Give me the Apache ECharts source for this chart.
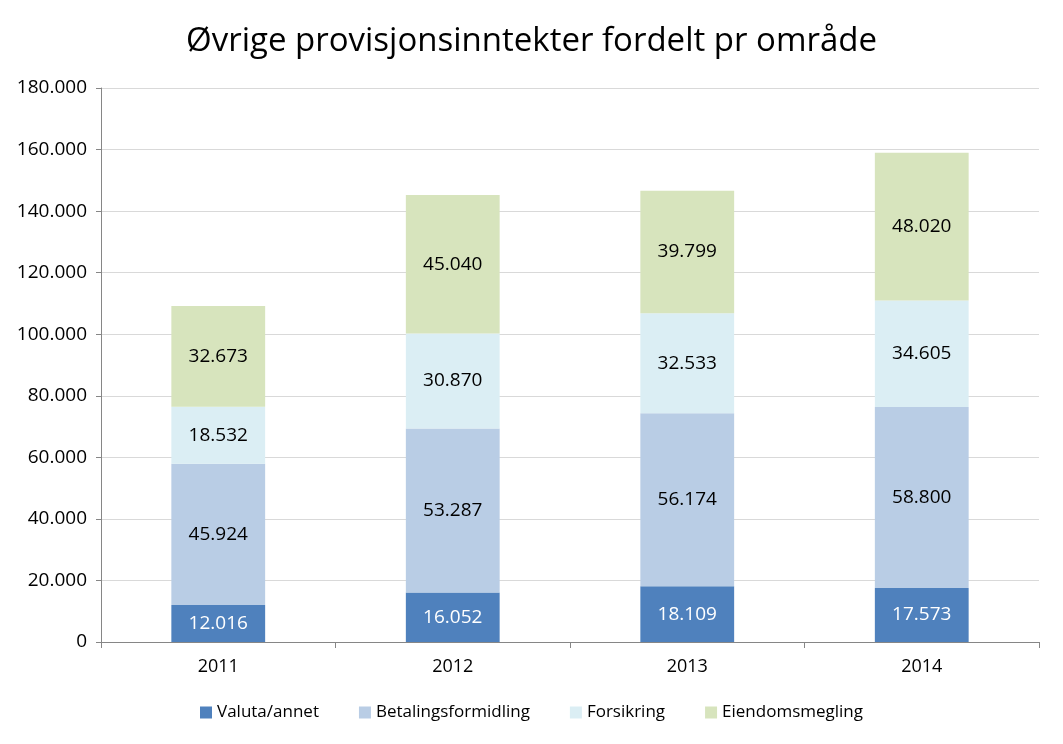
<!DOCTYPE html>
<html>
<head>
<meta charset="utf-8">
<script src="https://cdn.jsdelivr.net/npm/echarts@6/dist/echarts.min.js"></script>
<style>
  html, body { margin: 0; padding: 0; background: #fff; }
  #chart { width: 1063px; height: 744px; }
</style>
</head>
<body>
<div id="chart"></div>
<script>
var years = ["2011", "2012", "2013", "2014"];
var valuta = [12016, 16052, 18109, 17573];
var betaling = [45924, 53287, 56174, 58800];
var forsikring = [18532, 30870, 32533, 34605];
var eiendom = [32673, 45040, 39799, 48020];

function fmt(v) {
  return String(v).replace(/\B(?=(\d{3})+(?!\d))/g, ".");
}

var chartDom = document.getElementById("chart");
var myChart = echarts.init(chartDom);
var font = "'Open Sans', 'Noto Sans', sans-serif";

function makeSeries(name, data, color, labelColor) {
  return {
    name: name,
    type: "bar",
    stack: "total",
    barWidth: "40%",
    data: data,
    itemStyle: { color: color },
    label: {
      show: true,
      color: labelColor,
      fontSize: 19,
      fontFamily: font,
      formatter: function (p) { return fmt(p.value); }
    }
  };
}

var option = {
  animation: false,
  title: {
    text: "Øvrige provisjonsinntekter fordelt pr område",
    left: "center",
    top: 20,
    textStyle: { fontSize: 33, fontWeight: "normal", color: "#000", fontFamily: font }
  },
  legend: {
    bottom: 18,
    itemWidth: 12,
    itemHeight: 12,
    itemGap: 40,
    icon: "rect",
    textStyle: { fontSize: 17, color: "#000", fontFamily: font },
    data: ["Valuta/annet", "Betalingsformidling", "Forsikring", "Eiendomsmegling"]
  },
  grid: { left: 101, right: 24, top: 88, bottom: 102 },
  xAxis: {
    type: "category",
    data: years,
    axisLine: { lineStyle: { color: "#868686" } },
    axisTick: { show: true, length: 6, lineStyle: { color: "#868686" } },
    axisLabel: { color: "#000", fontSize: 18, fontFamily: font, margin: 16 }
  },
  yAxis: {
    type: "value",
    min: 0,
    max: 180000,
    interval: 20000,
    axisLine: { show: true, lineStyle: { color: "#868686" } },
    axisTick: { show: true, length: 5, lineStyle: { color: "#868686" } },
    splitLine: { lineStyle: { color: "#D9D9D9" } },
    axisLabel: {
      color: "#000", fontSize: 19, fontFamily: font, margin: 14,
      formatter: function (v) { return fmt(v); }
    }
  },
  series: [
    makeSeries("Valuta/annet", valuta, "#4F81BD", "#fff"),
    makeSeries("Betalingsformidling", betaling, "#B9CDE5", "#000"),
    makeSeries("Forsikring", forsikring, "#DBEEF4", "#000"),
    makeSeries("Eiendomsmegling", eiendom, "#D7E4BD", "#000")
  ]
};

myChart.setOption(option);
</script>
</body>
</html>
